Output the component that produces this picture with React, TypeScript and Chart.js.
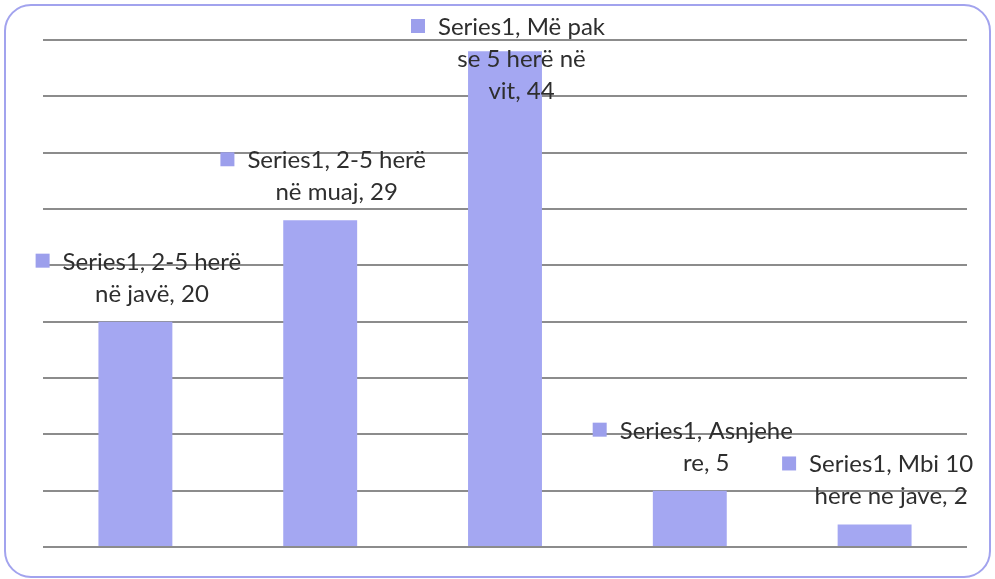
import { useEffect, useRef } from "react";
import { Chart, registerables } from "chart.js";

Chart.register(...registerables);

// Survey frequency chart: one series, five answer categories.
const seriesName = "Series1";
// Category names carry the line breaks used by their data labels.
const categories = [
  "2-5 herë\nnë javë",
  "2-5 herë\nnë muaj",
  "Më pak\nse 5 herë në\nvit",
  "Asnjehe\nre",
  "Mbi 10\nhere ne jave",
];
const values = [20, 29, 44, 5, 2];
const yMin = 0;
const yMax = 45;
const yStep = 5;

const WIDTH = 995;
const HEIGHT = 579;
const BAR_COLOR = "#a4a7f2";
const KEY_COLOR = "#9c9fec";
const GRID_COLOR = "#8c8c8c";
const FRAME_COLOR = "#a2a3ee";
const TEXT_COLOR = "#2e2e2e";
const FONT_SIZE = 24;
const FONT_FAMILY = "Lato, 'Open Sans', sans-serif";
const LINE_HEIGHT = 32;

const framePlugin = {
  id: "roundedFrame",
  beforeDraw(chart: Chart) {
    const ctx = chart.ctx;
    ctx.save();
    ctx.fillStyle = "#ffffff";
    ctx.fillRect(0, 0, chart.width, chart.height);
    ctx.strokeStyle = FRAME_COLOR;
    ctx.lineWidth = 2;
    ctx.beginPath();
    ctx.roundRect(5, 5, chart.width - 10, chart.height - 7, 26);
    ctx.stroke();
    ctx.restore();
  },
};

const dataLabelPlugin = {
  id: "keyedDataLabels",
  afterDatasetsDraw(chart: Chart) {
    const ctx = chart.ctx;
    const meta = chart.getDatasetMeta(0);
    ctx.save();
    ctx.font = `${FONT_SIZE}px ${FONT_FAMILY}`;
    ctx.textAlign = "center";
    ctx.textBaseline = "alphabetic";
    meta.data.forEach((bar: any, i: number) => {
      const text = `${seriesName}, ${categories[i]}, ${values[i]}`;
      const lines = text.split("\n");
      const widths = lines.map((l) => ctx.measureText(l).width);
      const textW = Math.max(...widths);
      const keySize = 14;
      const gap = 13;
      const blockW = keySize + gap + textW;
      const left = bar.x - blockW / 2 + 3;
      const textCx = left + keySize + gap + textW / 2;
      let firstBaseline = bar.y - 20 - (lines.length - 1) * LINE_HEIGHT;
      firstBaseline = Math.max(firstBaseline, 35);
      const line1Left = textCx - widths[0] / 2;
      ctx.fillStyle = KEY_COLOR;
      ctx.fillRect(line1Left - gap - keySize, firstBaseline - 16, keySize, keySize);
      ctx.fillStyle = TEXT_COLOR;
      lines.forEach((l, j) => {
        ctx.fillText(l, textCx, firstBaseline + j * LINE_HEIGHT);
      });
    });
    ctx.restore();
  },
};

export default function App() {
  const canvasRef = useRef<HTMLCanvasElement | null>(null);

  useEffect(() => {
    document.body.style.margin = "0";
    const canvas = canvasRef.current;
    if (!canvas) return;
    const chart = new Chart(canvas, {
      type: "bar",
      data: {
        labels: categories.map((c) => c.replace(/\n/g, " ")),
        datasets: [
          {
            label: seriesName,
            data: values,
            backgroundColor: BAR_COLOR,
            borderWidth: 0,
            barPercentage: 0.4,
            categoryPercentage: 1,
          },
        ],
      },
      options: {
        responsive: false,
        animation: false,
        devicePixelRatio: 1,
        layout: { padding: { left: 43, right: 28, top: 40, bottom: 32 } },
        plugins: {
          legend: { display: false },
          tooltip: { enabled: false },
        },
        scales: {
          x: {
            ticks: { display: false },
            grid: { display: false, drawTicks: false },
            border: { display: false },
          },
          y: {
            min: yMin,
            max: yMax,
            ticks: { display: false, stepSize: yStep },
            grid: { color: GRID_COLOR, lineWidth: 2, drawTicks: false },
            border: { display: false },
          },
        },
      },
      plugins: [framePlugin, dataLabelPlugin],
    });
    return () => chart.destroy();
  }, []);

  return (
    <div style={{ width: WIDTH, height: HEIGHT }}>
      <canvas ref={canvasRef} width={WIDTH} height={HEIGHT} />
    </div>
  );
}
